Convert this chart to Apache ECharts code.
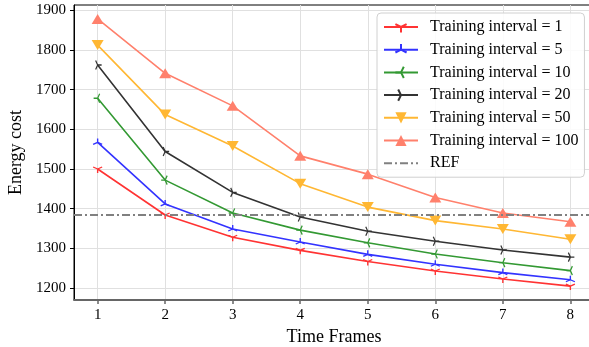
<!DOCTYPE html>
<html lang="en">
<head>
  <meta charset="UTF-8">
  <title>Energy cost</title>
  <script src="https://cdn.jsdelivr.net/npm/echarts@6/dist/echarts.min.js"></script>
</head>
<body style="margin:0">
  <div id="app" style="width: 589px; height: 347px;"></div>
  <script>
    var frames = [1, 2, 3, 4, 5, 6, 7, 8]
    var yTicks = [1200, 1300, 1400, 1500, 1600, 1700, 1800, 1900]
    var interval1 = [1500, 1384, 1328, 1295, 1267, 1243, 1223, 1205]
    var interval5 = [1567, 1412, 1349, 1316, 1285, 1260, 1239, 1221]
    var interval10 = [1678, 1472, 1389, 1346, 1314, 1286, 1264, 1244]
    var interval20 = [1762, 1544, 1441, 1379, 1343, 1318, 1296, 1278]
    var interval50 = [1812, 1637, 1558, 1463, 1404, 1370, 1349, 1323]
    var interval100 = [1878, 1741, 1659, 1533, 1487, 1428, 1389, 1367]
    var refValue = 1385

    var font = 'Liberation Serif'

    // matplotlib style thin markers (tri_down, tri_up, tri_left, tri_right)
    var triDown = 'path://M0,-10M0,0L0,10M0,0L-8.66,-5M0,0L8.66,-5'
    var triUp = 'path://M0,10M0,0L0,-10M0,0L-8.66,5M0,0L8.66,5'
    var triLeft = 'path://M10,0M0,0L-10,0M0,0L5,-8.66M0,0L5,8.66'
    var triRight = 'path://M-10,0M0,0L10,0M0,0L-5,-8.66M0,0L-5,8.66'

    function pairs(arr) {
      var out = []
      for (var i = 0; i < arr.length; i++) {
        out.push([frames[i], arr[i]])
      }
      return out
    }

    function lineSeries(name, values, color, symbol, size, thin) {
      return {
        name: name,
        type: 'line',
        data: pairs(values),
        symbol: symbol,
        symbolSize: size,
        showAllSymbol: true,
        lineStyle: { color: color, width: 1.6 },
        itemStyle: thin
          ? { color: color, borderColor: color, borderWidth: 1.3 }
          : { color: color, borderWidth: 0 },
        emphasis: { disabled: true }
      }
    }

    var app = document.querySelector('#app')
    var mCharts = echarts.init(app)

    var option = {
      animation: false,
      grid: {
        left: 74, top: 5, width: 520, height: 295,
        outerBoundsMode: 'none',
        containLabel: false,
        show: true, borderColor: '#000', borderWidth: 1
      },
      legend: {
        orient: 'vertical',
        left: 377, top: 13,
        padding: [6, 6, 6, 6],
        itemWidth: 34, itemHeight: 14, itemGap: 6.7,
        backgroundColor: 'rgba(255,255,255,0.85)',
        borderColor: '#d0d0d0', borderWidth: 1, borderRadius: 4,
        textStyle: { fontFamily: font, fontSize: 16, color: '#000', padding: [0, 0, 0, 7] },
        data: [
          'Training interval = 1', 'Training interval = 5', 'Training interval = 10',
          'Training interval = 20', 'Training interval = 50', 'Training interval = 100',
          { name: 'REF', itemStyle: { opacity: 0 } }
        ]
      },
      xAxis: {
        type: 'value',
        min: 0.65, max: 8.35,
        name: 'Time Frames',
        nameLocation: 'middle',
        nameGap: 27,
        nameTextStyle: { fontFamily: font, fontSize: 18, color: '#000' },
        axisLine: { lineStyle: { color: '#666', width: 2 } },
        axisTick: { customValues: frames, length: 4, lineStyle: { color: '#666', width: 1.5 } },
        axisLabel: { customValues: frames, margin: 8, fontFamily: font, fontSize: 15, color: '#000' },
        splitLine: { show: true, lineStyle: { color: '#e0e0e0', width: 1 } }
      },
      yAxis: {
        type: 'value',
        min: 1170, max: 1913,
        name: 'Energy cost',
        nameLocation: 'middle',
        nameGap: 43,
        nameTextStyle: { fontFamily: font, fontSize: 18, color: '#000' },
        axisLine: { show: true, lineStyle: { color: '#000', width: 1 } },
        axisTick: { show: true, customValues: yTicks, length: 4, lineStyle: { color: '#000' } },
        axisLabel: {
          customValues: yTicks, margin: 8, fontFamily: font, fontSize: 15, color: '#000',
          formatter: function (v) { return String(v) }
        },
        splitLine: { show: true, lineStyle: { color: '#e0e0e0', width: 1 } }
      },
      series: [
        lineSeries('Training interval = 1', interval1, '#ff3333', triDown, [9, 8], true),
        lineSeries('Training interval = 5', interval5, '#3333ff', triUp, [9, 8], true),
        lineSeries('Training interval = 10', interval10, '#339933', triLeft, [8, 9], true),
        lineSeries('Training interval = 20', interval20, '#333333', triRight, [8, 9], true),
        lineSeries('Training interval = 50', interval50, '#ffb733', 'path://M-5,0L5,0L0,8.5Z', [12, 10], false),
        lineSeries('Training interval = 100', interval100, '#ff806c', 'triangle', [12, 10], false),
        {
          name: 'REF',
          type: 'line',
          data: [],
          symbol: 'none',
          lineStyle: { color: '#808080', width: 2, type: [8, 3, 2, 3] },
          itemStyle: { color: '#808080' },
          markLine: {
            silent: true,
            symbol: 'none',
            label: { show: false },
            lineStyle: { color: '#808080', width: 2, type: [8, 3, 2, 3] },
            data: [{ yAxis: refValue }]
          }
        }
      ]
    }
    mCharts.setOption(option)
  </script>
</body>
</html>
